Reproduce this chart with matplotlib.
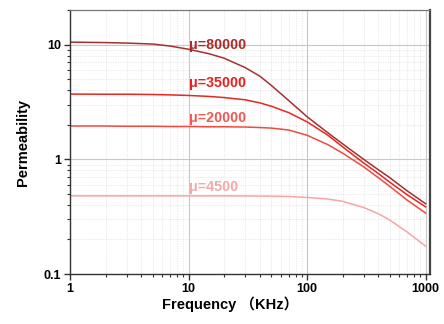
import matplotlib
matplotlib.use("Agg")
import matplotlib.pyplot as plt
from matplotlib.ticker import LogLocator, NullFormatter, FixedLocator, FixedFormatter

# Data #
freq_khz = [1, 2, 3, 5, 7, 10, 15, 20, 30, 40, 50, 70, 100, 150, 200, 300, 400, 500, 700, 1000]
mu_80000 = [10.5, 10.4, 10.3, 10.1, 9.7, 9.1, 8.3, 7.6, 6.3, 5.3, 4.4, 3.25, 2.35, 1.7, 1.36, 1.0, 0.81, 0.69, 0.53, 0.41]
mu_35000 = [3.7, 3.69, 3.69, 3.67, 3.64, 3.6, 3.53, 3.45, 3.3, 3.1, 2.9, 2.55, 2.12, 1.62, 1.28, 0.93, 0.75, 0.63, 0.49, 0.385]
mu_20000 = [1.95, 1.95, 1.94, 1.94, 1.93, 1.93, 1.92, 1.92, 1.91, 1.89, 1.87, 1.8, 1.62, 1.34, 1.13, 0.86, 0.69, 0.58, 0.44, 0.34]
mu_4500  = [0.48, 0.48, 0.48, 0.48, 0.48, 0.48, 0.48, 0.48, 0.479, 0.478, 0.477, 0.474, 0.465, 0.45, 0.43, 0.38, 0.335, 0.295, 0.232, 0.175]

series_labels = ['μ=80000', 'μ=35000', 'μ=20000', 'μ=4500']
line_colors   = ['#a82f2f', '#e8261e', '#f04a40', '#f7a5a5']
text_colors   = ['#b02a2a', '#e82020', '#ee5a55', '#f5a8a8']

x_ticks  = [1, 10, 100, 1000]
y_ticks  = [0.1, 1, 10]

# Figure #
fig = plt.figure(figsize=(4.44, 3.24), dpi=100)
ax  = fig.add_axes([0.1577, 0.1543, 0.8108, 0.8148])
ax.set_xscale('log')
ax.set_yscale('log')
ax.set_xlim(1, 1090)
ax.set_ylim(0.1, 20)

# Grid #
ax.grid(True, which='major', color='#c8c8c8', linewidth=0.8, linestyle='-')
ax.grid(True, which='minor', color='#e4e4e4', linewidth=0.6, linestyle=(0, (1.5, 1.5)))
ax.set_axisbelow(True)

# Curves #
all_series = [mu_80000, mu_35000, mu_20000, mu_4500]
for values, color in zip(all_series, line_colors):
    ax.plot(freq_khz, values, color=color, linewidth=1.1)

# Labels on curves #
label_y = [10.0, 4.58, 2.28, 0.571]
for text, y, color in zip(series_labels, label_y, text_colors):
    ax.text(10, y, text, color=color, fontsize=10.3, fontweight='bold',
            family=['Liberation Sans', 'DejaVu Sans'], ha='left', va='center')

# Ticks #
ax.xaxis.set_major_locator(FixedLocator(x_ticks))
ax.xaxis.set_major_formatter(FixedFormatter([str(t) for t in x_ticks]))
ax.yaxis.set_major_locator(FixedLocator(y_ticks))
ax.yaxis.set_major_formatter(FixedFormatter(['0.1', '1', '10']))
ax.xaxis.set_minor_locator(LogLocator(base=10, subs=range(2, 10), numticks=20))
ax.yaxis.set_minor_locator(LogLocator(base=10, subs=range(2, 10), numticks=20))
ax.xaxis.set_minor_formatter(NullFormatter())
ax.yaxis.set_minor_formatter(NullFormatter())
ax.tick_params(which='major', direction='out', length=4.5, width=1, color='#333333',
               labelsize=9, pad=2)
ax.tick_params(which='minor', direction='out', length=2.5, width=0.8, color='#333333')
ax.tick_params(top=False, right=False, which='both')
for lab in ax.get_xticklabels() + ax.get_yticklabels():
    lab.set_fontweight('bold')
    lab.set_family(['Liberation Sans', 'DejaVu Sans'])

# Frame #
ax.spines['left'].set_color('#333333')
ax.spines['bottom'].set_color('#333333')
ax.spines['left'].set_linewidth(1.0)
ax.spines['bottom'].set_linewidth(1.0)
ax.spines['right'].set_color('#444444')
ax.spines['right'].set_linewidth(1.6)
ax.spines['top'].set_color('#777777')
ax.spines['top'].set_linewidth(0.9)

# Axis titles #
fam = ['Liberation Sans', 'Noto Sans CJK SC', 'DejaVu Sans']
ax.set_xlabel('Frequency （KHz）', fontsize=10.5, fontweight='bold', family=fam)
ax.xaxis.set_label_coords(0.445, -0.085)
ax.set_ylabel('Permeability', fontsize=10.5, fontweight='bold', family=fam, labelpad=10)

fig.savefig('out.png', dpi=100)
